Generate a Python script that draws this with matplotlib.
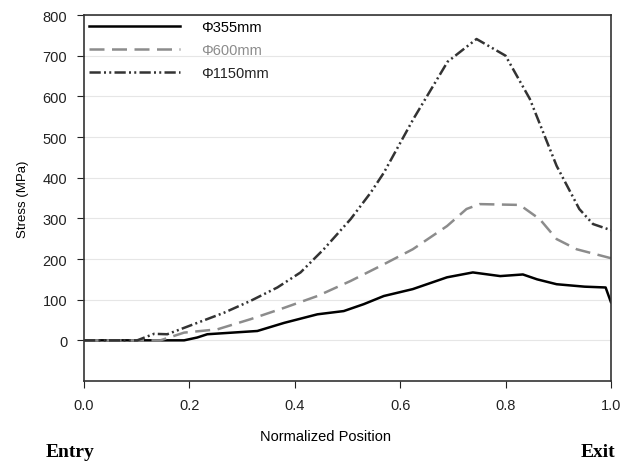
import matplotlib.pyplot as plt

# Data
x_355 = [0.0, 0.095, 0.19, 0.215, 0.234, 0.329, 0.38, 0.443, 0.493, 0.531, 0.569,
         0.624, 0.689, 0.738, 0.79, 0.833, 0.86, 0.897, 0.95, 0.99, 1.0]
y_355 = [0, 0, 0, 7, 15, 23, 43, 64, 72, 89, 109,
         126, 155, 167, 158, 162, 150, 138, 132, 130, 94]

x_600 = [0.0, 0.145, 0.19, 0.253, 0.316, 0.38, 0.443, 0.506, 0.569, 0.624, 0.689,
         0.726, 0.751, 0.827, 0.865, 0.897, 0.935, 1.0]
y_600 = [0, 0, 19, 27, 52, 80, 109, 146, 187, 224, 281,
         323, 335, 333, 298, 249, 224, 202]

x_1150 = [0.0, 0.101, 0.133, 0.158, 0.215, 0.266, 0.316, 0.367, 0.411, 0.455, 0.506,
          0.544, 0.569, 0.625, 0.69, 0.745, 0.8, 0.846, 0.897, 0.94, 0.966, 1.0]
y_1150 = [0, 0, 16, 15, 43, 68, 97, 130, 167, 224, 298,
          363, 412, 544, 685, 741, 700, 594, 429, 323, 286, 271]

labels = ["\u03a6355mm", "\u03a6600mm", "\u03a61150mm"]

plt.rcParams["font.family"] = ["Liberation Sans", "DejaVu Sans"]
fs = 10.5

fig = plt.figure(figsize=(6.24, 4.64), dpi=100)
ax = fig.add_axes([0.1346, 0.1767, 0.8444, 0.7888])

ax.plot(x_355, y_355, color="black", lw=1.8, label=labels[0])
ax.plot(x_600, y_600, color="#8c8c8c", lw=1.8, dashes=(6, 3), label=labels[1])
ax.plot(x_1150, y_1150, color="#333333", lw=1.8,
        dashes=(4.5, 1.3, 0.8, 1.3, 0.8, 1.3), label=labels[2])

ax.set_xlim(0, 1)
ax.set_ylim(-100, 800)
ax.set_yticks(range(0, 801, 100))
ax.set_xticks([0.0, 0.2, 0.4, 0.6, 0.8, 1.0])
ax.set_xticklabels(["0.0", "0.2", "0.4", "0.6", "0.8", "1.0"])
ax.grid(axis="y", color="#e6e6e6", lw=0.8)
ax.set_axisbelow(True)
ax.tick_params(labelsize=fs, colors="#222222", length=5, pad=7)

for s in ax.spines.values():
    s.set_color("#333333")
    s.set_linewidth(1.2)

ax.set_ylabel("Stress (MPa)", fontsize=9.5, labelpad=10)

leg = ax.legend(loc="upper left", frameon=False, fontsize=fs, handlelength=6.2,
                borderaxespad=0.05, borderpad=0.3, labelspacing=0.62, handletextpad=1.5)
for t, c in zip(leg.get_texts(), ["black", "#8c8c8c", "#222222"]):
    t.set_color(c)

fig.text(0.521, 0.058, "Normalized Position", ha="center", va="center", fontsize=fs)
fig.text(0.112, 0.025, "Entry", ha="center", va="center", fontsize=14,
         fontweight="bold", family="Liberation Serif")
fig.text(0.958, 0.025, "Exit", ha="center", va="center", fontsize=14,
         fontweight="bold", family="Liberation Serif")

fig.savefig("out.png", dpi=100)
